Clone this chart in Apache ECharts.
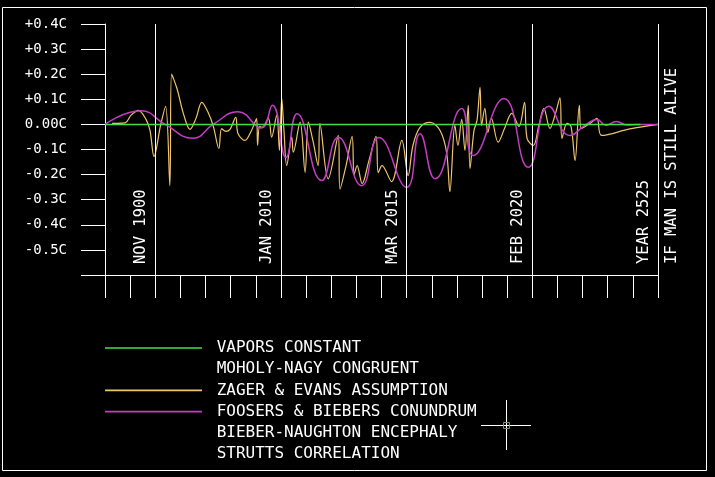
<!DOCTYPE html>
<html>
<head>
<meta charset="utf-8">
<script src="https://cdn.jsdelivr.net/npm/echarts@6/dist/echarts.min.js"></script>
<style>
html,body{margin:0;padding:0;background:#000;}
#c{width:715px;height:477px;}
</style>
</head>
<body>
<div id="c"></div>
<script>
// ---- data ----
const yTickValues = [-0.5, -0.4, -0.3, -0.2, -0.1, 0, 0.1, 0.2, 0.3, 0.4];
const yTickLabels = ['-0.5C', '-0.4C', '-0.3C', '-0.2C', '-0.1C', '0.00C', '+0.1C', '+0.2C', '+0.3C', '+0.4C'];
const majorTicks = [2, 7, 12, 17, 22];
const dateLabels = ['NOV 1900', 'JAN 2010', 'MAR 2015', 'FEB 2020', 'YEAR 2525'];
const endLabel = 'IF MAN IS STILL ALIVE';
const seriesNames = ['VAPORS CONSTANT', 'MOHOLY-NAGY CONGRUENT', 'ZAGER & EVANS ASSUMPTION',
  'FOOSERS & BIEBERS CONUNDRUM', 'BIEBER-NAUGHTON ENCEPHALY', 'STRUTTS CORRELATION'];

const vaporsX = [0, 21.3];
const vaporsY = [0, 0];

const foosersX = [0, 1.43, 2.39, 3.50, 4.30, 5.29, 6.21, 6.66, 7.20, 7.64, 8.62, 9.28, 10.21, 10.90,
  12.00, 12.53, 13.13, 14.19, 14.65, 15.87, 16.84, 17.66, 18.50, 19.09, 19.57, 19.93, 20.35, 20.75, 21.28, 22];
const foosersY = [0, 0.054, 0, -0.055, 0, 0.05, -0.014, 0.076, -0.132, 0.042, -0.224, -0.051, -0.244, -0.052,
  -0.251, -0.037, -0.217, 0.063, -0.124, 0.103, -0.171, 0.072, -0.044, -0.004, 0.02, -0.004, 0.012, -0.002, 0, 0];

const zagerX = [0.28, 0.80, 1.03, 1.33, 1.63, 1.79, 1.95, 2.21, 2.41, 2.58, 2.65, 2.86, 3.14, 3.38, 3.62, 3.85,
  4.10, 4.31, 4.53, 4.64, 4.81, 4.97, 5.20, 5.29, 5.57, 5.81, 6.03, 6.07, 6.15, 6.25, 6.50, 6.63, 6.83, 6.94,
  7.03, 7.12, 7.23, 7.43, 7.49, 7.76, 7.96, 8.09, 8.27, 8.48, 8.55, 8.88, 9.28, 9.35, 9.59, 9.83, 9.91, 10.03,
  10.23, 10.50, 10.78, 10.87, 11.02, 11.40, 11.81, 12.06, 12.25, 12.53, 12.93, 13.33, 13.59, 13.72, 13.92,
  14.04, 14.19, 14.32, 14.45, 14.52, 14.68, 14.80, 14.92, 14.98, 15.11, 15.23, 15.37, 15.64, 15.91, 16.18,
  16.47, 16.69, 16.79, 17.04, 17.26, 17.46, 17.70, 17.90, 18.10, 18.18, 18.38, 18.54, 18.70, 18.87, 18.95,
  19.29, 19.57, 19.76, 20.88, 22];
const zagerY = [0.004, 0.006, 0.036, 0.056, 0.020, -0.024, -0.128, -0.004, 0.072, -0.244, 0.200, 0.144, 0.036,
  -0.020, 0.024, 0.088, 0.048, -0.008, -0.096, -0.017, -0.028, -0.020, 0.028, -0.036, -0.064, -0.028, 0.023,
  -0.084, -0.008, -0.012, 0.024, -0.051, 0.036, -0.104, 0.104, -0.024, -0.164, -0.051, -0.111, 0.009, -0.191,
  0.009, -0.064, -0.164, 0.003, -0.217, -0.044, -0.257, -0.164, -0.048, -0.200, -0.164, -0.236, -0.144, -0.048,
  -0.192, -0.164, -0.228, -0.064, -0.204, -0.084, -0.012, 0.008, -0.024, -0.112, -0.268, -0.004, -0.084, 0.020,
  -0.104, 0.076, -0.176, -0.024, 0.016, 0.148, -0.004, 0.064, -0.032, 0.024, -0.071, -0.012, 0.044, -0.008,
  0.088, -0.056, -0.084, -0.004, 0.064, -0.016, 0.036, 0.106, -0.056, 0.004, -0.008, -0.144, 0.076, -0.016,
  0.004, 0.024, -0.044, -0.018, 0];

// ---- chart ----
const FONT = '"DejaVu Sans Mono", "Liberation Mono", monospace';
const GREEN = '#46de46', YELLOW = '#f0c46c', MAGENTA = '#c43cc4', WHITE = '#ffffff';
const pair = (xs, ys) => xs.map((x, i) => [x, ys[i]]);

const chart = echarts.init(document.getElementById('c'), null, {renderer: 'canvas'});

function emptySeries(name) {
  return {name, type: 'line', data: [], showSymbol: false, color: 'rgba(0,0,0,0)',
    lineStyle: {color: 'rgba(0,0,0,0)'}, itemStyle: {color: 'rgba(0,0,0,0)'}};
}

const option = {
  backgroundColor: '#000',
  animation: false,
  grid: {left: 105, right: 57, top: 24, bottom: 202, containLabel: false},
  xAxis: {
    type: 'value', min: 0, max: 22, interval: 1,
    axisLine: {show: true, onZero: false, lineStyle: {color: WHITE, width: 1}},
    axisTick: {show: true, inside: false, length: 23, lineStyle: {color: WHITE, width: 1}},
    axisLabel: {show: false},
    splitLine: {show: false}
  },
  yAxis: {
    type: 'value', min: -0.6, max: 0.4, interval: 0.1,
    axisLine: {show: true, onZero: false, lineStyle: {color: WHITE, width: 1}},
    axisTick: {show: true, inside: false, length: 24, lineStyle: {color: WHITE, width: 1}},
    axisLabel: {
      show: true, color: WHITE, fontFamily: FONT, fontSize: 14, margin: 38,
      formatter: function (v) {
        const k = Math.round(v * 10);
        const idx = yTickValues.findIndex(t => Math.round(t * 10) === k);
        return idx >= 0 ? yTickLabels[idx] : '';
      }
    },
    splitLine: {show: false}
  },
  legend: {
    orient: 'vertical', left: 105, top: 340, padding: 0,
    icon: 'rect', itemWidth: 97, itemHeight: 1.6, itemGap: 5.2,
    selectedMode: false,
    data: seriesNames,
    formatter: n => ' ' + n,
    textStyle: {color: WHITE, fontFamily: FONT, fontSize: 16}
  },
  series: [
    {
      name: seriesNames[0], type: 'line', data: pair(vaporsX, vaporsY), showSymbol: false, z: 5,
      color: GREEN, lineStyle: {color: GREEN, width: 1.5}, itemStyle: {color: GREEN},
      markLine: {
        silent: true, symbol: ['none', 'none'], label: {show: false},
        lineStyle: {color: WHITE, type: 'solid', width: 1},
        data: majorTicks.map(v => ({xAxis: v}))
      }
    },
    emptySeries(seriesNames[1]),
    {
      name: seriesNames[2], type: 'line', data: pair(zagerX, zagerY), showSymbol: false, smooth: 0.35, z: 3,
      color: YELLOW, lineStyle: {color: YELLOW, width: 1.2}, itemStyle: {color: YELLOW}
    },
    {
      name: seriesNames[3], type: 'line', data: pair(foosersX, foosersY), showSymbol: false, smooth: 0.5, z: 4,
      color: MAGENTA, lineStyle: {color: MAGENTA, width: 1.5}, itemStyle: {color: MAGENTA}
    },
    emptySeries(seriesNames[4]),
    emptySeries(seriesNames[5])
  ]
};
chart.setOption(option);

// rotated date labels placed relative to the axis
const bottomY = chart.convertToPixel({yAxisIndex: 0}, -0.6) - 11;
const graphics = [];
majorTicks.forEach((t, i) => {
  const px = chart.convertToPixel({xAxisIndex: 0}, t);
  graphics.push({
    type: 'text', x: px - 14, y: bottomY, rotation: Math.PI / 2, silent: true,
    style: {text: dateLabels[i], fill: WHITE, font: '15.5px ' + FONT, align: 'left', verticalAlign: 'middle',
      textAlign: 'left', textVerticalAlign: 'middle'}
  });
});
const endPx = chart.convertToPixel({xAxisIndex: 0}, 22);
graphics.push({
  type: 'text', x: endPx + 13.5, y: bottomY, rotation: Math.PI / 2, silent: true,
  style: {text: endLabel, fill: WHITE, font: '15.5px ' + FONT, align: 'left', verticalAlign: 'middle',
    textAlign: 'left', textVerticalAlign: 'middle'}
});
// frame
graphics.push({type: 'rect', silent: true, shape: {x: 2.5, y: 7.5, width: 704, height: 463},
  style: {fill: 'none', stroke: WHITE, lineWidth: 1}});
// CAD cursor
graphics.push({type: 'line', silent: true, shape: {x1: 481, y1: 425.5, x2: 531, y2: 425.5}, style: {stroke: WHITE, lineWidth: 1}});
graphics.push({type: 'line', silent: true, shape: {x1: 506.5, y1: 400, x2: 506.5, y2: 450}, style: {stroke: WHITE, lineWidth: 1}});
graphics.push({type: 'rect', silent: true, shape: {x: 503.5, y: 422.5, width: 6, height: 6},
  style: {fill: 'none', stroke: '#6f9a6f', lineWidth: 1}});
chart.setOption({graphic: graphics});
</script>
</body>
</html>
